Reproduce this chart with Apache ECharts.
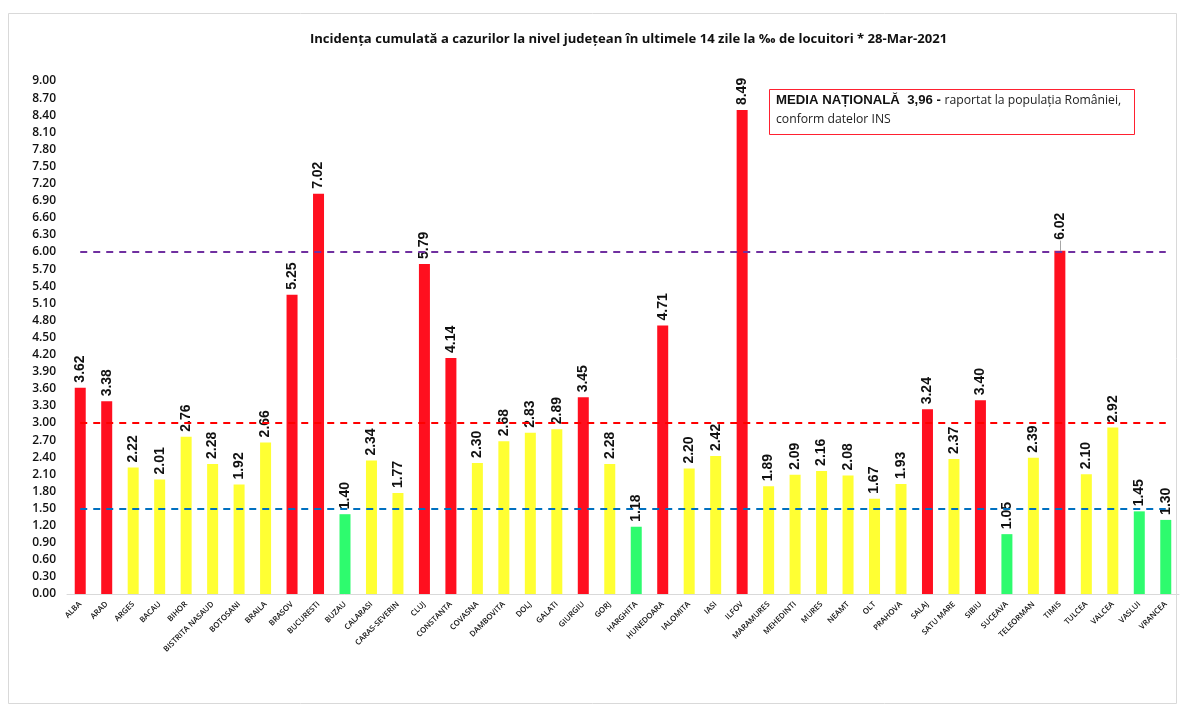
<!DOCTYPE html>
<html>
<head>
<meta charset="utf-8">
<style>html,body{margin:0;padding:0;background:#fff}#chart{width:1186px;height:716px}</style>
<script src="https://cdn.jsdelivr.net/npm/echarts@6/dist/echarts.min.js"></script>
</head>
<body>
<div id="chart"></div>
<script>
// judete, in ordinea din grafic
const counties = ['ALBA','ARAD','ARGES','BACAU','BIHOR','BISTRITA NASAUD','BOTOSANI','BRAILA','BRASOV','BUCURESTI','BUZAU','CALARASI','CARAS-SEVERIN','CLUJ','CONSTANTA','COVASNA','DAMBOVITA','DOLJ','GALATI','GIURGIU','GORJ','HARGHITA','HUNEDOARA','IALOMITA','IASI','ILFOV','MARAMURES','MEHEDINTI','MURES','NEAMT','OLT','PRAHOVA','SALAJ','SATU MARE','SIBIU','SUCEAVA','TELEORMAN','TIMIS','TULCEA','VALCEA','VASLUI','VRANCEA'];
const incidence = [3.62,3.38,2.22,2.01,2.76,2.28,1.92,2.66,5.25,7.02,1.40,2.34,1.77,5.79,4.14,2.30,2.68,2.83,2.89,3.45,2.28,1.18,4.71,2.20,2.42,8.49,1.89,2.09,2.16,2.08,1.67,1.93,3.24,2.37,3.40,1.05,2.39,6.02,2.10,2.92,1.45,1.30];
// pragurile desenate cu linie punctata
const thresholds = [6, 3, 1.5];
const thresholdColors = ['#7030a0', '#ff0000', '#0070c0'];

const RED = '#ff0f1f', YELLOW = '#ffff33', GREEN = '#2efb6e';

function barColor(v) {
    if (v >= 3) return RED;
    if (v >= 1.5) return YELLOW;
    return GREEN;
}

var myecharts = echarts.init(document.getElementById('chart'));

// liniile de prag pornesc de la ALBA si merg pana la marginea din dreapta
var markLines = thresholds.map(function (t, i) {
    return [
        { coord: [0.07, t], lineStyle: { color: thresholdColors[i], type: [7, 6], width: 2 } },
        { coord: [41.4, t] }
    ];
});
// linia de legatura a etichetei TIMIS
markLines.push([
    { coord: ['TIMIS', 6.02], lineStyle: { color: '#a6a6a6', type: 'solid', width: 1 } },
    { coord: ['TIMIS', 6.2] }
]);

var option = {
    backgroundColor: '#fff',
    animation: false,
    textStyle: { fontFamily: '"Open Sans"' },
    title: {
        text: 'Incidența cumulată a cazurilor la nivel județean în ultimele 14 zile la ‰ de locuitori * 28-Mar-2021',
        left: 623.5,
        top: 28,
        textAlign: 'center',
        textStyle: { fontSize: 13.1, fontWeight: 'bold', color: '#111', fontFamily: '"Open Sans"' }
    },
    grid: { left: 67, right: 7, top: 81, bottom: 122 },
    xAxis: {
        type: 'category',
        data: counties,
        axisTick: { show: false },
        axisLine: { lineStyle: { color: '#d9d9d9', width: 1 } },
        axisLabel: { interval: 0, rotate: 45, fontSize: 7.8, margin: 9, color: '#111', fontWeight: 600 }
    },
    yAxis: {
        type: 'value',
        min: 0,
        max: 9,
        interval: 0.3,
        splitLine: { show: false },
        axisLine: { show: false },
        axisTick: { show: false },
        axisLabel: {
            margin: 11,
            fontSize: 12,
            fontWeight: 600,
            color: '#111',
            formatter: function (v) { return v.toFixed(2); }
        }
    },
    series: [{
        type: 'bar',
        barWidth: 11,
        data: incidence.map(function (v, i) {
            var item = { value: v, itemStyle: { color: barColor(v) } };
            if (counties[i] === 'TIMIS') item.label = { distance: 11 };
            return item;
        }),
        label: {
            show: true,
            position: 'top',
            rotate: 90,
            align: 'left',
            verticalAlign: 'middle',
            distance: 5,
            fontFamily: '"Liberation Sans"',
            fontSize: 14,
            fontWeight: 'bold',
            color: '#111',
            formatter: function (p) { return p.value.toFixed(2); }
        },
        markLine: {
            silent: true,
            symbol: 'none',
            label: { show: false },
            data: markLines
        }
    }],
    graphic: [
        {
            type: 'rect',
            shape: { x: 8.5, y: 13.5, width: 1168, height: 690 },
            style: { fill: 'none', stroke: '#d9d9d9', lineWidth: 1 },
            z: -1
        },
        {
            type: 'rect',
            shape: { x: 769.5, y: 89.5, width: 365, height: 45 },
            style: { fill: '#fff', stroke: '#ff2030', lineWidth: 1 }
        },
        {
            type: 'text',
            left: 776,
            top: 94,
            style: {
                rich: {
                    b: { fontFamily: '"Liberation Sans"', fontSize: 13.2, fontWeight: 'bold', fill: '#111', lineHeight: 19 },
                    n: { fontFamily: '"Open Sans"', fontSize: 12.2, fill: '#222', lineHeight: 19 }
                },
                text: '{b|MEDIA NAȚIONALĂ  3,96 - }{n|raportat la populația României,}\n{n|conform datelor INS}'
            }
        }
    ]
};

myecharts.setOption(option);
</script>
</body>
</html>
